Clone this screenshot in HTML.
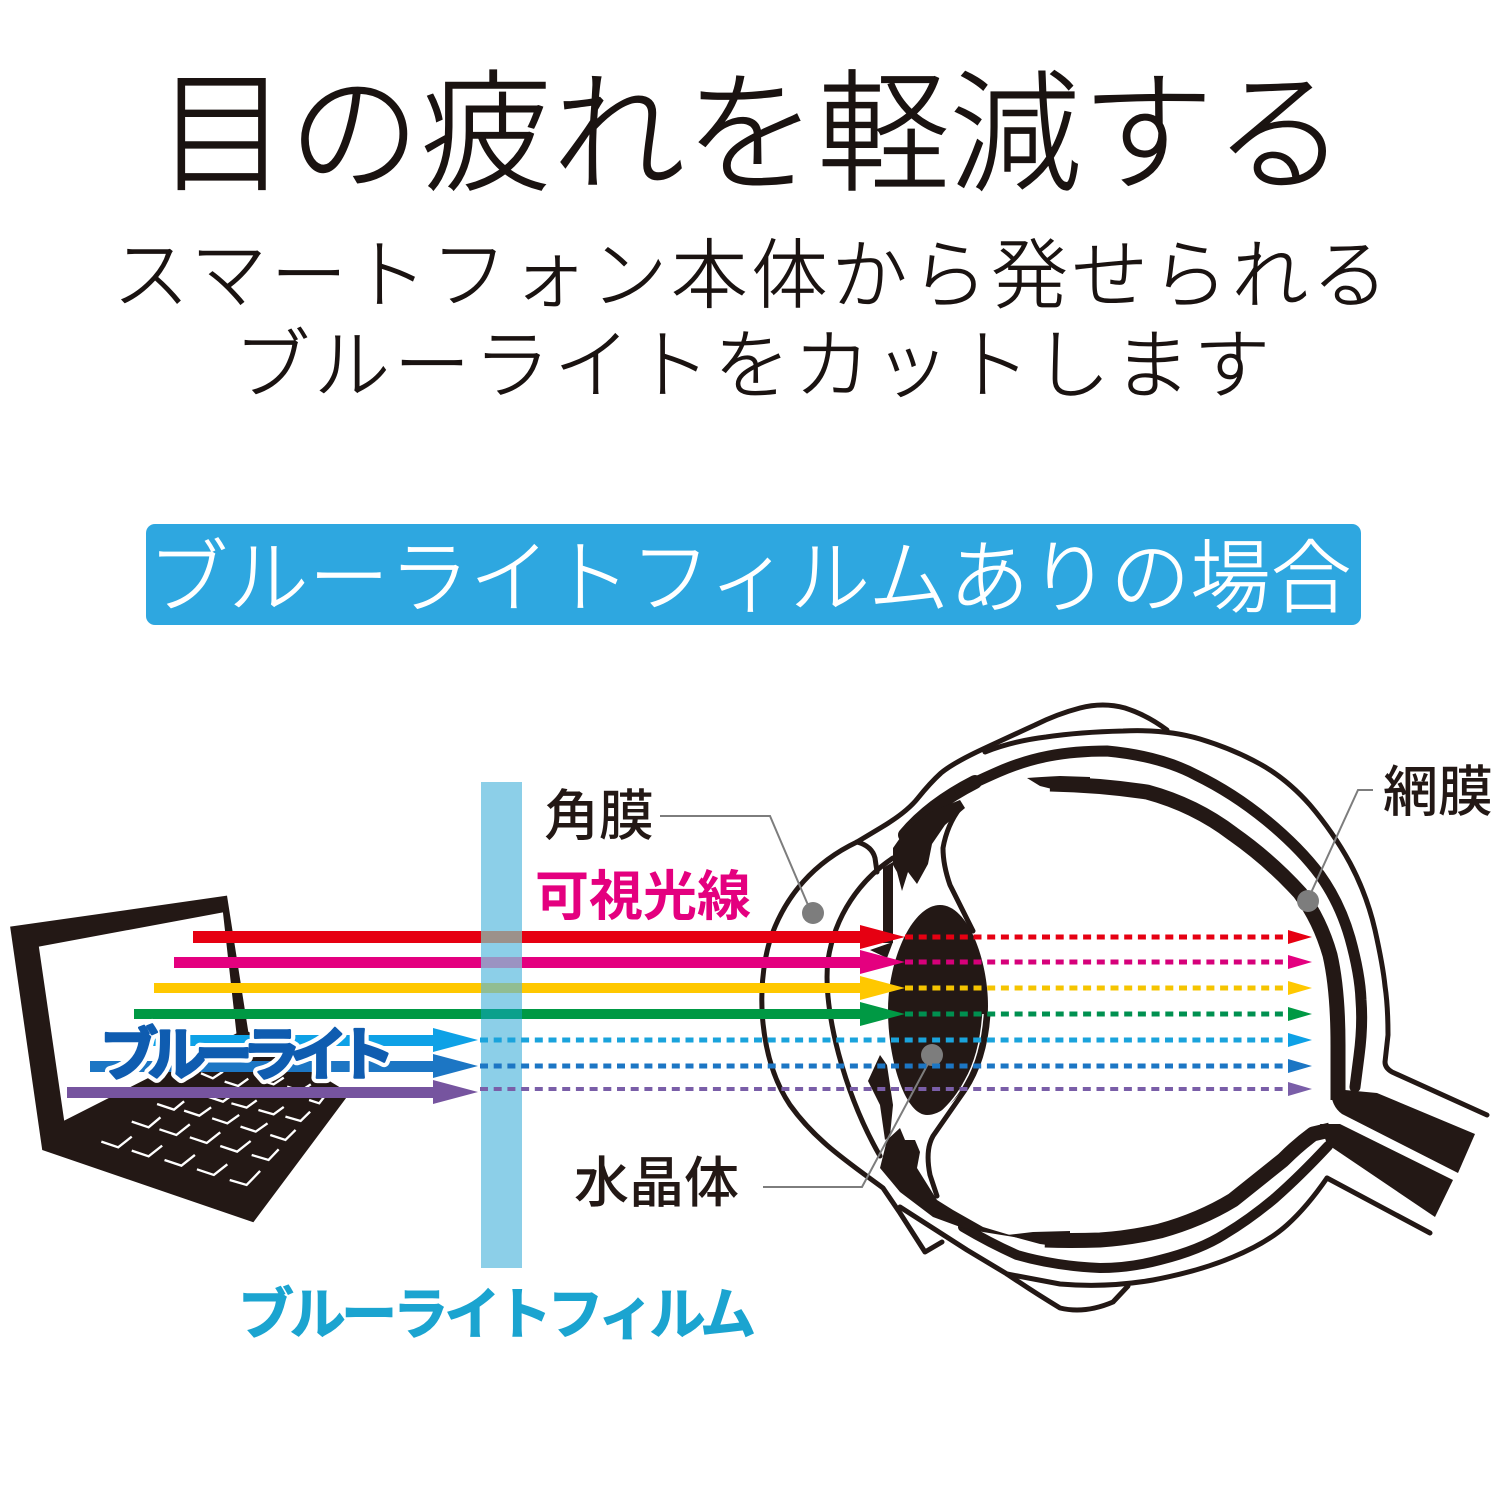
<!DOCTYPE html>
<html><head><meta charset="utf-8"><style>
html,body{margin:0;padding:0;background:#fff}
svg{display:block}
text{font-family:"Liberation Sans","Noto Sans CJK JP",sans-serif}
</style></head><body>
<svg width="1500" height="1500" viewBox="0 0 1500 1500" xmlns="http://www.w3.org/2000/svg">
<rect width="1500" height="1500" fill="#fff"/>
<g fill="#1a1311" stroke="#1a1311" font-weight="300">
<text x="156" y="180" font-size="132" stroke-width="1.2" textLength="1190" lengthAdjust="spacing">目の疲れを軽減する</text>
<text x="113" y="302" font-size="76" stroke-width=".8" textLength="1275" lengthAdjust="spacing">スマートフォン本体から発せられる</text>
<text x="234" y="392" font-size="76" stroke-width=".8" textLength="1036" lengthAdjust="spacing">ブルーライトをカットします</text>
</g>
<rect x="146" y="524" width="1215" height="101" rx="9" fill="#2ea7e0"/>
<text x="148" y="606" font-size="80" font-weight="300" fill="#fff" stroke="#fff" stroke-width=".8" textLength="1203" lengthAdjust="spacing">ブルーライトフィルムありの場合</text>

<!-- laptop -->
<g transform="translate(0,880) scale(.3378,.3333)">
<path fill-rule="evenodd" fill="#231815" d="M30 140L672 47L735 455L1035 640L750 1027L125 810ZM115 200L660 97L700 460L190 722Z"/>
<g fill="none" stroke="#fff" stroke-width="7">
<path d="M300 785l50 17l40-32M390 812l50 17l40-32M487 840l50 17l40-32M583 868l50 17l40-32M680 900l50 15l40-42"/>
<path d="M390 725l50 17l35-30M472 748l50 17l40-32M562 772l50 17l40-32M652 798l50 17l40-32M745 825l50 15l30-32"/>
<path d="M465 672l50 17l30-25M545 692l45 15l35-25M628 715l45 15l35-25M712 740l45 15l35-25M800 765l45 15l30-30"/>
<path d="M615 650l45 15l30-22M685 670l45 13l30-22M765 690l45 13l30-22M845 710l45 13l28-28"/>
<path d="M595 580l35 15l30-20M665 605l40 13l30-22M770 600l40 13l30-20M850 620l40 13l30-20M915 660l30 10l15-20"/>
</g>
</g>

<!-- eye -->
<g fill="none" stroke="#231815" stroke-linejoin="round" stroke-linecap="round">
<path stroke-width="5" d="M857 842C815 862 785 895 770 940C755 990 760 1060 790 1105C815 1140 845 1160 883 1188L900 1213L925 1252L942 1242"/>
<path stroke-width="5" d="M893 858C860 880 835 915 828 960C822 1010 845 1095 880 1156"/>
<path stroke-width="5" d="M857 842Q872 846 875 858L877 872"/>
<path stroke-width="5" d="M857 842L882 827Q907 812 918 798Q930 783 941 773Q953 763 983 749Q1013 735 1035 725Q1057 714 1080 708Q1103 702 1125 708Q1147 715 1167 730"/>
<path stroke-width="5" d="M985 752Q1013 741 1046 737Q1080 732 1123 731Q1167 729 1200 739Q1233 749 1260 764Q1287 779 1310 805Q1333 832 1350 863Q1367 895 1375 930Q1383 966 1385 986Q1388 1006 1388 1035L1385 1062Q1385 1068 1392 1072L1487 1115"/>
<path stroke-width="14" d="M905 835Q930 805 975 782"/>
<path stroke-width="11" d="M960 790Q973 783 998 772Q1023 761 1049 756Q1075 751 1107 751Q1160 756 1196 775Q1233 793 1266 820Q1300 848 1320 875Q1340 903 1350 938Q1360 974 1361 1000Q1363 1026 1359 1056L1355 1087"/>
<path stroke-width="15" stroke-linecap="butt" d="M1050 784Q1100 785 1147 792Q1195 805 1233 834Q1270 860 1300 893Q1320 920 1330 955Q1338 990 1338 1045L1338 1100"/>
<path stroke-width="5" d="M1327 1178Q1307 1207 1287 1225Q1267 1243 1233 1257Q1200 1271 1153 1280Q1107 1288 1060 1284L1007 1274L967 1250L900 1207"/>
<path stroke-width="5" d="M1327 1178L1430 1233"/>
<path stroke-width="5" d="M1007 1274Q1035 1293 1060 1308Q1085 1314 1113 1302L1128 1286"/>
<path stroke-width="10" d="M963 1227Q990 1243 1017 1255Q1055 1266 1100 1268Q1130 1268 1160 1260Q1200 1250 1225 1234Q1250 1219 1275 1198Q1300 1176 1328 1146"/>
<path stroke-width="15" stroke-linecap="butt" d="M1330 1130L1313 1134Q1298 1145 1283 1160Q1258 1180 1233 1200Q1200 1220 1160 1231Q1130 1238 1100 1240Q1070 1241 1045 1240"/>
<path stroke-width="5" d="M960 808Q947 825 943 848Q943 865 950 885L973 931"/>
<path stroke-width="5" d="M988 1014Q985 1060 965 1090L933 1136Q925 1150 930 1175L937 1196"/>
</g>
<g fill="#231815">
<path d="M1027 778Q1040 777 1060 776L1090 777L1090 793L1060 791L1040 786Z"/>
<path d="M1007 1235L1033 1232L1070 1231L1070 1248L1040 1244Z"/>
<path d="M1331 1090L1345 1090L1377 1093L1475 1134L1458 1173L1342 1114Q1331 1106 1331 1090Z"/>
<path d="M1320 1124L1340 1124L1453 1180L1435 1217L1327 1144Z"/>
<path d="M893 848L907 828L935 810L960 800L965 808L945 825L932 844L928 864L917 884L908 872L902 891L897 872L893 865Z"/>
<path d="M883 868L893 862L893 943L883 943Z"/>
<path d="M870 950L893 942L887 958Z"/>
<path d="M880 1055L887 1065L893 1105L890 1136L885 1140L880 1105L868 1081Z"/>
<path d="M880 1168L887 1140L900 1128L905 1140L915 1140L920 1152L917 1168L937 1200L953 1210L983 1227L1020 1238L983 1232L963 1228L933 1217L900 1192Z"/>
<path d="M940 905C968 905 988 960 988 1006C988 1060 955 1115 927 1115C905 1115 888 1060 888 1010C888 960 912 905 940 905Z"/>
</g>
<path d="M983 1014Q980 1055 965 1081Q955 1100 940 1113" fill="none" stroke="#fff" stroke-width="1.5"/>

<!-- leaders -->
<g fill="none" stroke="#7d7d7d" stroke-width="2">
<path d="M660 816H770L808 905"/>
<path d="M763 1187H862L930 1060"/>
<path d="M1373 790H1358L1310 895"/>
</g>
<g fill="#7d7d7d">
<ellipse cx="813" cy="913" rx="11" ry="11"/>
<ellipse cx="932" cy="1055" rx="11" ry="11"/>
<ellipse cx="1308" cy="901" rx="11" ry="11"/>
</g>

<!-- solid arrows -->
<g>
<rect x="193" y="931" width="670" height="12" fill="#e60012"/><path d="M860 925L905 937L860 949Z" fill="#e60012"/>
<rect x="174" y="957" width="690" height="11" fill="#e4007f"/><path d="M860 950L905 962L860 974Z" fill="#e4007f"/>
<rect x="154" y="983" width="710" height="10" fill="#ffc800"/><path d="M860 976L905 988L860 1000Z" fill="#ffc800"/>
<rect x="134" y="1009" width="730" height="10" fill="#009944"/><path d="M860 1002L905 1014L860 1026Z" fill="#009944"/>
<rect x="110" y="1035" width="326" height="11" fill="#0ea1e6"/><path d="M433 1028L478 1040L433 1052Z" fill="#0ea1e6"/>
<rect x="90" y="1061" width="346" height="11" fill="#1c76c4"/><path d="M433 1054L478 1066L433 1078Z" fill="#1c76c4"/>
</g>

<!-- film -->
<rect x="481" y="782" width="41" height="486" fill="#8ccfe8"/>
<rect x="481" y="931" width="41" height="12" fill="#9c918a"/>
<rect x="481" y="957" width="41" height="11" fill="#9b93c2"/>
<rect x="481" y="983" width="41" height="10" fill="#91bd92"/>
<rect x="481" y="1009" width="41" height="10" fill="#0aa08c"/>

<!-- dashed -->
<g fill="none" stroke-dasharray="8 5.7" stroke-width="5">
<path d="M905 937H1288" stroke="#e60012"/>
<path d="M905 962H1288" stroke="#d6007a"/>
<path d="M905 988H1288" stroke="#f5c400"/>
<path d="M905 1014H1288" stroke="#009050"/>
<path d="M480 1040H1288" stroke="#1aa3dc"/>
<path d="M480 1066H1288" stroke="#1c76c4"/>
<path d="M480 1089H1288" stroke="#7a5ea8" stroke-width="4"/>
</g>
<g>
<path d="M1288 930L1312 937L1288 944Z" fill="#e60012"/>
<path d="M1288 955L1312 962L1288 969Z" fill="#e4007f"/>
<path d="M1288 981L1312 988L1288 995Z" fill="#ffc800"/>
<path d="M1288 1007L1312 1014L1288 1021Z" fill="#009944"/>
<path d="M1288 1033L1312 1040L1288 1047Z" fill="#0ea1e6"/>
<path d="M1288 1059L1312 1066L1288 1073Z" fill="#1c76c4"/>
<path d="M1288 1082L1312 1089L1288 1096Z" fill="#7a5ea8"/>
</g>

<!-- labels -->
<text x="100" y="1075" font-size="58" font-weight="700" fill="#fff" stroke="#fff" stroke-width="11" stroke-linejoin="round" textLength="295" lengthAdjust="spacing">ブルーライト</text>
<text x="100" y="1075" font-size="58" font-weight="700" fill="#0f5cb0" stroke="#0f5cb0" stroke-width="2.5" stroke-linejoin="round" textLength="295" lengthAdjust="spacing">ブルーライト</text>
<rect x="67" y="1087" width="370" height="11" fill="#76549f"/><path d="M433 1080L478 1092L433 1104Z" fill="#76549f"/>
<g font-weight="500" fill="#231815" font-size="55">
<text x="544" y="835">角膜</text>
<text x="1383" y="811">網膜</text>
<text x="574" y="1202">水晶体</text>
</g>
<text x="535" y="915" font-size="54" font-weight="700" fill="#e4007f">可視光線</text>
<text x="238" y="1334" font-size="56" font-weight="700" fill="#1ba4d0" stroke="#1ba4d0" stroke-width="1" textLength="518" lengthAdjust="spacing">ブルーライトフィルム</text>
</svg>
</body></html>
